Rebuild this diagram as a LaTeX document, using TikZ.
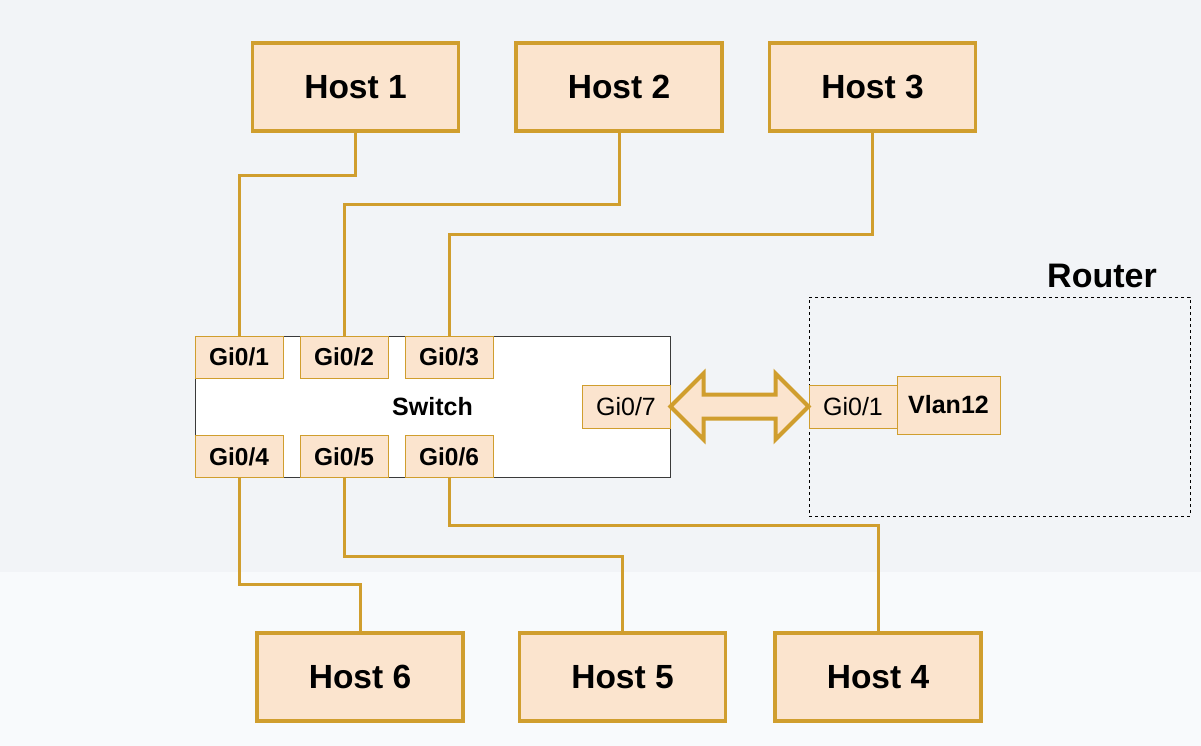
\documentclass[tikz,border=0pt]{standalone}
\usepackage{fontspec}
\setmainfont{Liberation Sans}
\usetikzlibrary{calc}
\definecolor{bgtop}{HTML}{F2F4F7}
\definecolor{bgbot}{HTML}{F8FAFC}
\definecolor{peach}{HTML}{FBE4CE}
\definecolor{gold}{HTML}{D09E2E}
\definecolor{swborder}{HTML}{3A3A3A}
\tikzset{
  host/.style={draw=gold, line width=3.5pt, fill=peach, minimum width=206pt, minimum height=88pt, inner sep=0pt, font=\fontsize{33.5}{36}\selectfont\bfseries},
  port/.style={draw=gold, line width=1pt, fill=peach, minimum width=88pt, minimum height=42pt, inner sep=0pt, font=\fontsize{24.5}{27}\selectfont\bfseries},
  rport/.style={port, font=\fontsize{25}{27}\selectfont},
  wire/.style={draw=gold, line width=3pt},
}
\begin{document}
\begin{tikzpicture}[x=1pt,y=-1pt]
\fill[bgtop] (0,0) rectangle (1201,572);
\fill[bgbot] (0,572) rectangle (1201,746);
\useasboundingbox (0,0) rectangle (1201,746);

% hosts
\node[host] (h1) at (355.5,87) {Host 1};
\node[host] (h2) at (619,87) {Host 2};
\node[host] (h3) at (872.5,87) {Host 3};
\node[host] (h6) at (360,677) {Host 6};
\node[host] (h5) at (622.5,677) {Host 5};
\node[host] (h4) at (878,677) {Host 4};

% switch
\node[draw=swborder, line width=1pt, fill=white, minimum width=475pt, minimum height=141pt, inner sep=0pt,
  font=\fontsize{25}{27}\selectfont\bfseries] (sw) at (432.5,406.5) {Switch};
\node[port] (p1) at (239,357) {Gi0/1};
\node[port] (p2) at (344,357) {Gi0/2};
\node[port] (p3) at (449,357) {Gi0/3};
\node[port] (p4) at (239,456.5) {Gi0/4};
\node[port] (p5) at (344,456.5) {Gi0/5};
\node[port] (p6) at (449,456.5) {Gi0/6};
\node[rport, minimum height=43pt] (g7) at (626,406.5) {Gi0/7};

% router
\node[draw=black, line width=0.8pt, dash pattern=on 3pt off 3pt, minimum width=381pt, minimum height=219pt, inner sep=0pt] (rt) at (999.5,406.5) {};
\node[font=\fontsize{34}{36}\selectfont\bfseries] (rtl) at (1102,276) {Router};
\node[rport, minimum height=43pt] (r1) at (853,406.5) {Gi0/1};
\node[port, minimum width=103pt, minimum height=58pt, font=\fontsize{25}{27}\selectfont\bfseries] (vl) at (948.5,405) {Vlan12};

% wires
\draw[wire] (h1.south) -- ++(0,43) -| (p1.north);
\draw[wire] (h2.south) -- ++(0,72) -| (p2.north);
\draw[wire] (h3.south) -- ++(0,102) -| (p3.north);
\draw[wire] (p4.south) -- ++(0,106) -| (h6.north);
\draw[wire] (p5.south) -- ++(0,78) -| (h5.north);
\draw[wire] (p6.south) -- ++(0,47) -| (h4.north);

% double arrow between g7 and r1
\coordinate (al) at (g7.east);
\coordinate (ar) at (r1.west);
\draw[draw=gold, fill=peach, line width=4pt, line join=miter]
  (al) -- ($(al)+(33,-33)$) -- ($(al)+(33,-12)$) -- ($(ar)+(-33,-12)$) -- ($(ar)+(-33,-33)$)
  -- (ar) -- ($(ar)+(-33,33)$) -- ($(ar)+(-33,12)$) -- ($(al)+(33,12)$) -- ($(al)+(33,33)$) -- cycle;
\end{tikzpicture}
\end{document}
